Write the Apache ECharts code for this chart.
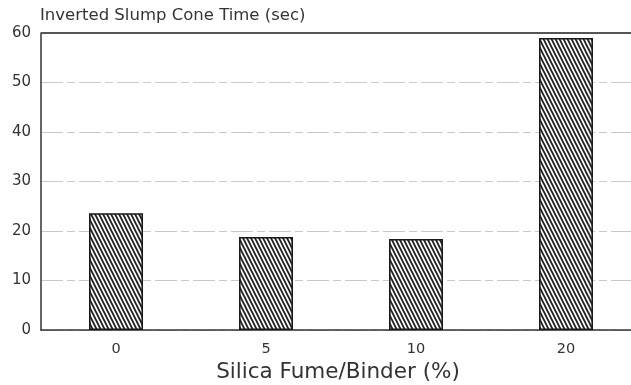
<!DOCTYPE html>
<html>
<head>
<meta charset="utf-8">
<script src="https://cdn.jsdelivr.net/npm/echarts@6/dist/echarts.min.js"></script>
<style>
  html, body { margin: 0; padding: 0; background: #fff; }
  #chart { width: 631px; height: 385px; }
</style>
</head>
<body>
<div id="chart"></div>
<script>
// Silica fume dosage (% of binder) and the measured inverted slump cone time
const categories = ['0', '5', '10', '20'];
const coneTime = [23.6, 18.8, 18.4, 59.0];
const yTicks = [0, 10, 20, 30, 40, 50, 60];

// Steep diagonal hatch fill ("\\\\") for the bars; seamless 4x8 tile
function makeHatch() {
  const w = 4, h = 8;
  const c = document.createElement('canvas');
  c.width = w; c.height = h;
  const ctx = c.getContext('2d');
  ctx.fillStyle = '#ffffff';
  ctx.fillRect(0, 0, w, h);
  ctx.strokeStyle = '#222222';
  ctx.lineWidth = 1.9;
  for (let k = -1; k <= 1; k++) {
    ctx.beginPath();
    ctx.moveTo(k * w - 1, -2);
    ctx.lineTo(k * w + w + 1, h + 2);
    ctx.stroke();
  }
  return c;
}

const chart = echarts.init(document.getElementById('chart'), null, { renderer: 'canvas' });
const font = 'DejaVu Sans, Verdana, sans-serif';

chart.setOption({
  backgroundColor: '#ffffff',
  animation: false,
  title: {
    text: 'Inverted Slump Cone Time (sec)',
    left: 35, top: 2,
    textStyle: { fontFamily: font, fontSize: 16.5, fontWeight: 'normal', color: '#333' }
  },
  grid: { left: 41, top: 33, width: 600, height: 297, outerBoundsMode: 'none', containLabel: false },
  xAxis: {
    type: 'category',
    data: categories,
    name: 'Silica Fume/Binder (%)',
    nameLocation: 'middle',
    nameGap: 31,
    nameTextStyle: { fontFamily: font, fontSize: 21.5, color: '#333', padding: [0, 6, 0, 0] },
    axisLine: { lineStyle: { color: '#333', width: 1.5 } },
    axisTick: { show: false },
    axisLabel: { fontFamily: font, fontSize: 14.5, color: '#333', margin: 12 },
    splitLine: { show: false }
  },
  yAxis: {
    type: 'value',
    min: yTicks[0], max: yTicks[yTicks.length - 1], interval: 10,
    axisLine: { show: true, lineStyle: { color: '#333', width: 1.5 } },
    axisTick: { show: false },
    axisLabel: { fontFamily: font, fontSize: 15, color: '#333', margin: 10 },
    splitLine: { show: true, lineStyle: { color: '#c8c8c8', width: 1, type: [22, 4, 8, 4] } }
  },
  series: [{
    type: 'bar',
    data: coneTime,
    barWidth: 54,
    itemStyle: {
      color: { image: makeHatch(), repeat: 'repeat' },
      borderColor: '#1a1a1a',
      borderWidth: 1.6
    }
  }],
  graphic: [{
    // heavier frame line along the top of the plot
    type: 'line',
    z: 100,
    shape: { x1: 41, y1: 33, x2: 631, y2: 33 },
    style: { stroke: '#555', lineWidth: 2 }
  }]
});
</script>
</body>
</html>
